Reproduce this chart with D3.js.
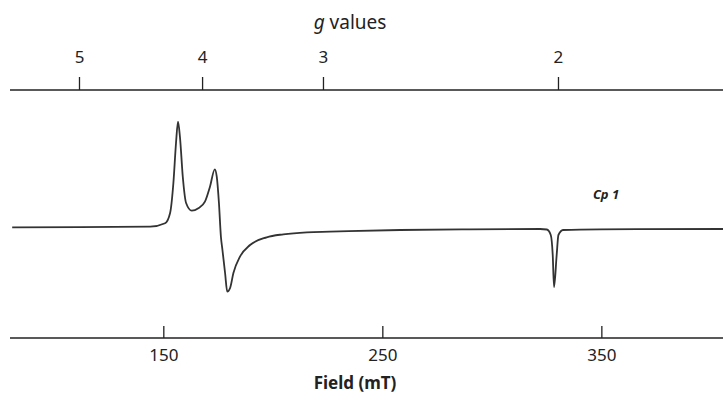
<!DOCTYPE html>
<html lang="en">
<head>
  <meta charset="UTF-8" />
  <title>EPR spectrum</title>
  <script src="https://d3js.org/d3.v7.min.js" charset="utf-8"></script>
  <style>
    body { margin: 0; background: #fff; }
    text { font-family: "Noto Sans", Arial, sans-serif; fill: #222; }
    .spectrum { fill: none; stroke: #333; stroke-width: 1.8; }
  </style>
</head>
<body>
<script type="text/javascript">

const WIDTH = 723;
const HEIGHT = 400;

// spectrum: field in mT, signal in arbitrary units
var field = [81, 112, 144, 150.8, 153.1, 154.6, 155.8, 156.7, 157.6, 158.9,
             160.4, 163, 166, 169, 171.3, 173.5, 174.4, 175.4, 176.3, 177,
             178.2, 179.2, 180.5, 182, 185, 189.6, 197.2, 204.8, 215.5, 226.1,
             258.1, 290, 322, 325.1, 326.9, 327.8, 328.4, 329.6, 330.4, 332.5,
             349.4, 405.6];
var signal = [0.7, 0.8, 1.3, 4.7, 15, 45, 85, 106.3, 91, 51,
              25, 17.3, 19.7, 26.3, 41.3, 58.7, 51.3, 25, -8.7, -22,
              -45, -63.7, -60, -45, -28.7, -17, -9.3, -6.3, -4.3, -3.7,
              -2, -1.3, -1, -1.5, -7, -27, -59, -27, -7, -2,
              -1.3, -1];

// bottom axis ticks (mT)
var fieldTicks = [150, 250, 350];

// top axis: g values and where they sit on the field axis
var gLabels = [5, 4, 3, 2];
var gFields = [111.5, 167.7, 222.9, 330.2];

var data = field.map((f, i) => ({field: f, signal: signal[i]}));

var svg = d3.select("body")
    .append("svg")
        .attr("width", WIDTH)
        .attr("height", HEIGHT);

const xScale = d3.scaleLinear()
    .domain([80, 406])
    .range([10, 724]);

const yScale = d3.scaleLinear()
    .domain([-80, 120])
    .range([308, 108]);

// top axis (g values), placed on the field scale
svg.append("g")
    .attr("transform", "translate(0, 90)")
    .call(
        d3.axisTop(xScale)
            .tickValues(gFields)
            .tickFormat((d, i) => gLabels[i])
            .tickSizeOuter(0)
            .tickSize(13)
            .tickPadding(14)
    )
    .call(g => g.select(".domain").attr("d", `M10,0H${WIDTH}`).attr("stroke", "#222").attr("stroke-width", 1.6))
    .call(g => g.selectAll(".tick line").attr("stroke", "#222").attr("stroke-width", 1.3))
    .call(g => g.selectAll(".tick text").attr("font-size", 17).attr("fill", "#222"));

var gTitle = svg.append("text")
    .attr("x", 350)
    .attr("y", 29)
    .attr("text-anchor", "middle")
    .attr("font-size", 19);
gTitle.append("tspan").attr("font-style", "italic").text("g");
gTitle.append("tspan").text(" values");

// bottom axis (field)
svg.append("g")
    .attr("transform", "translate(0, 338)")
    .call(
        d3.axisBottom(xScale)
            .tickValues(fieldTicks)
            .tickSizeOuter(0)
            .tickSize(-12)
            .tickPadding(11)
    )
    .call(g => g.select(".domain").attr("d", `M10,0H${WIDTH}`).attr("stroke", "#222").attr("stroke-width", 1.6))
    .call(g => g.selectAll(".tick line").attr("stroke", "#222").attr("stroke-width", 1.3))
    .call(g => g.selectAll(".tick text").attr("font-size", 17).attr("fill", "#222"));

svg.append("text")
    .attr("x", 355)
    .attr("y", 389)
    .attr("text-anchor", "middle")
    .attr("font-size", 17)
    .attr("font-weight", "bold")
    .text("Field (mT)");

// spectrum
var line = d3.line()
    .x(d => xScale(d.field))
    .y(d => yScale(d.signal))
    .curve(d3.curveMonotoneX);

svg.append("path")
    .datum(data)
    .attr("class", "spectrum")
    .attr("d", line);

svg.append("text")
    .attr("x", 606)
    .attr("y", 199)
    .attr("text-anchor", "middle")
    .attr("font-size", 13)
    .attr("font-style", "italic")
    .attr("font-weight", "bold")
    .text("Cp 1");

</script>
</body>
</html>
